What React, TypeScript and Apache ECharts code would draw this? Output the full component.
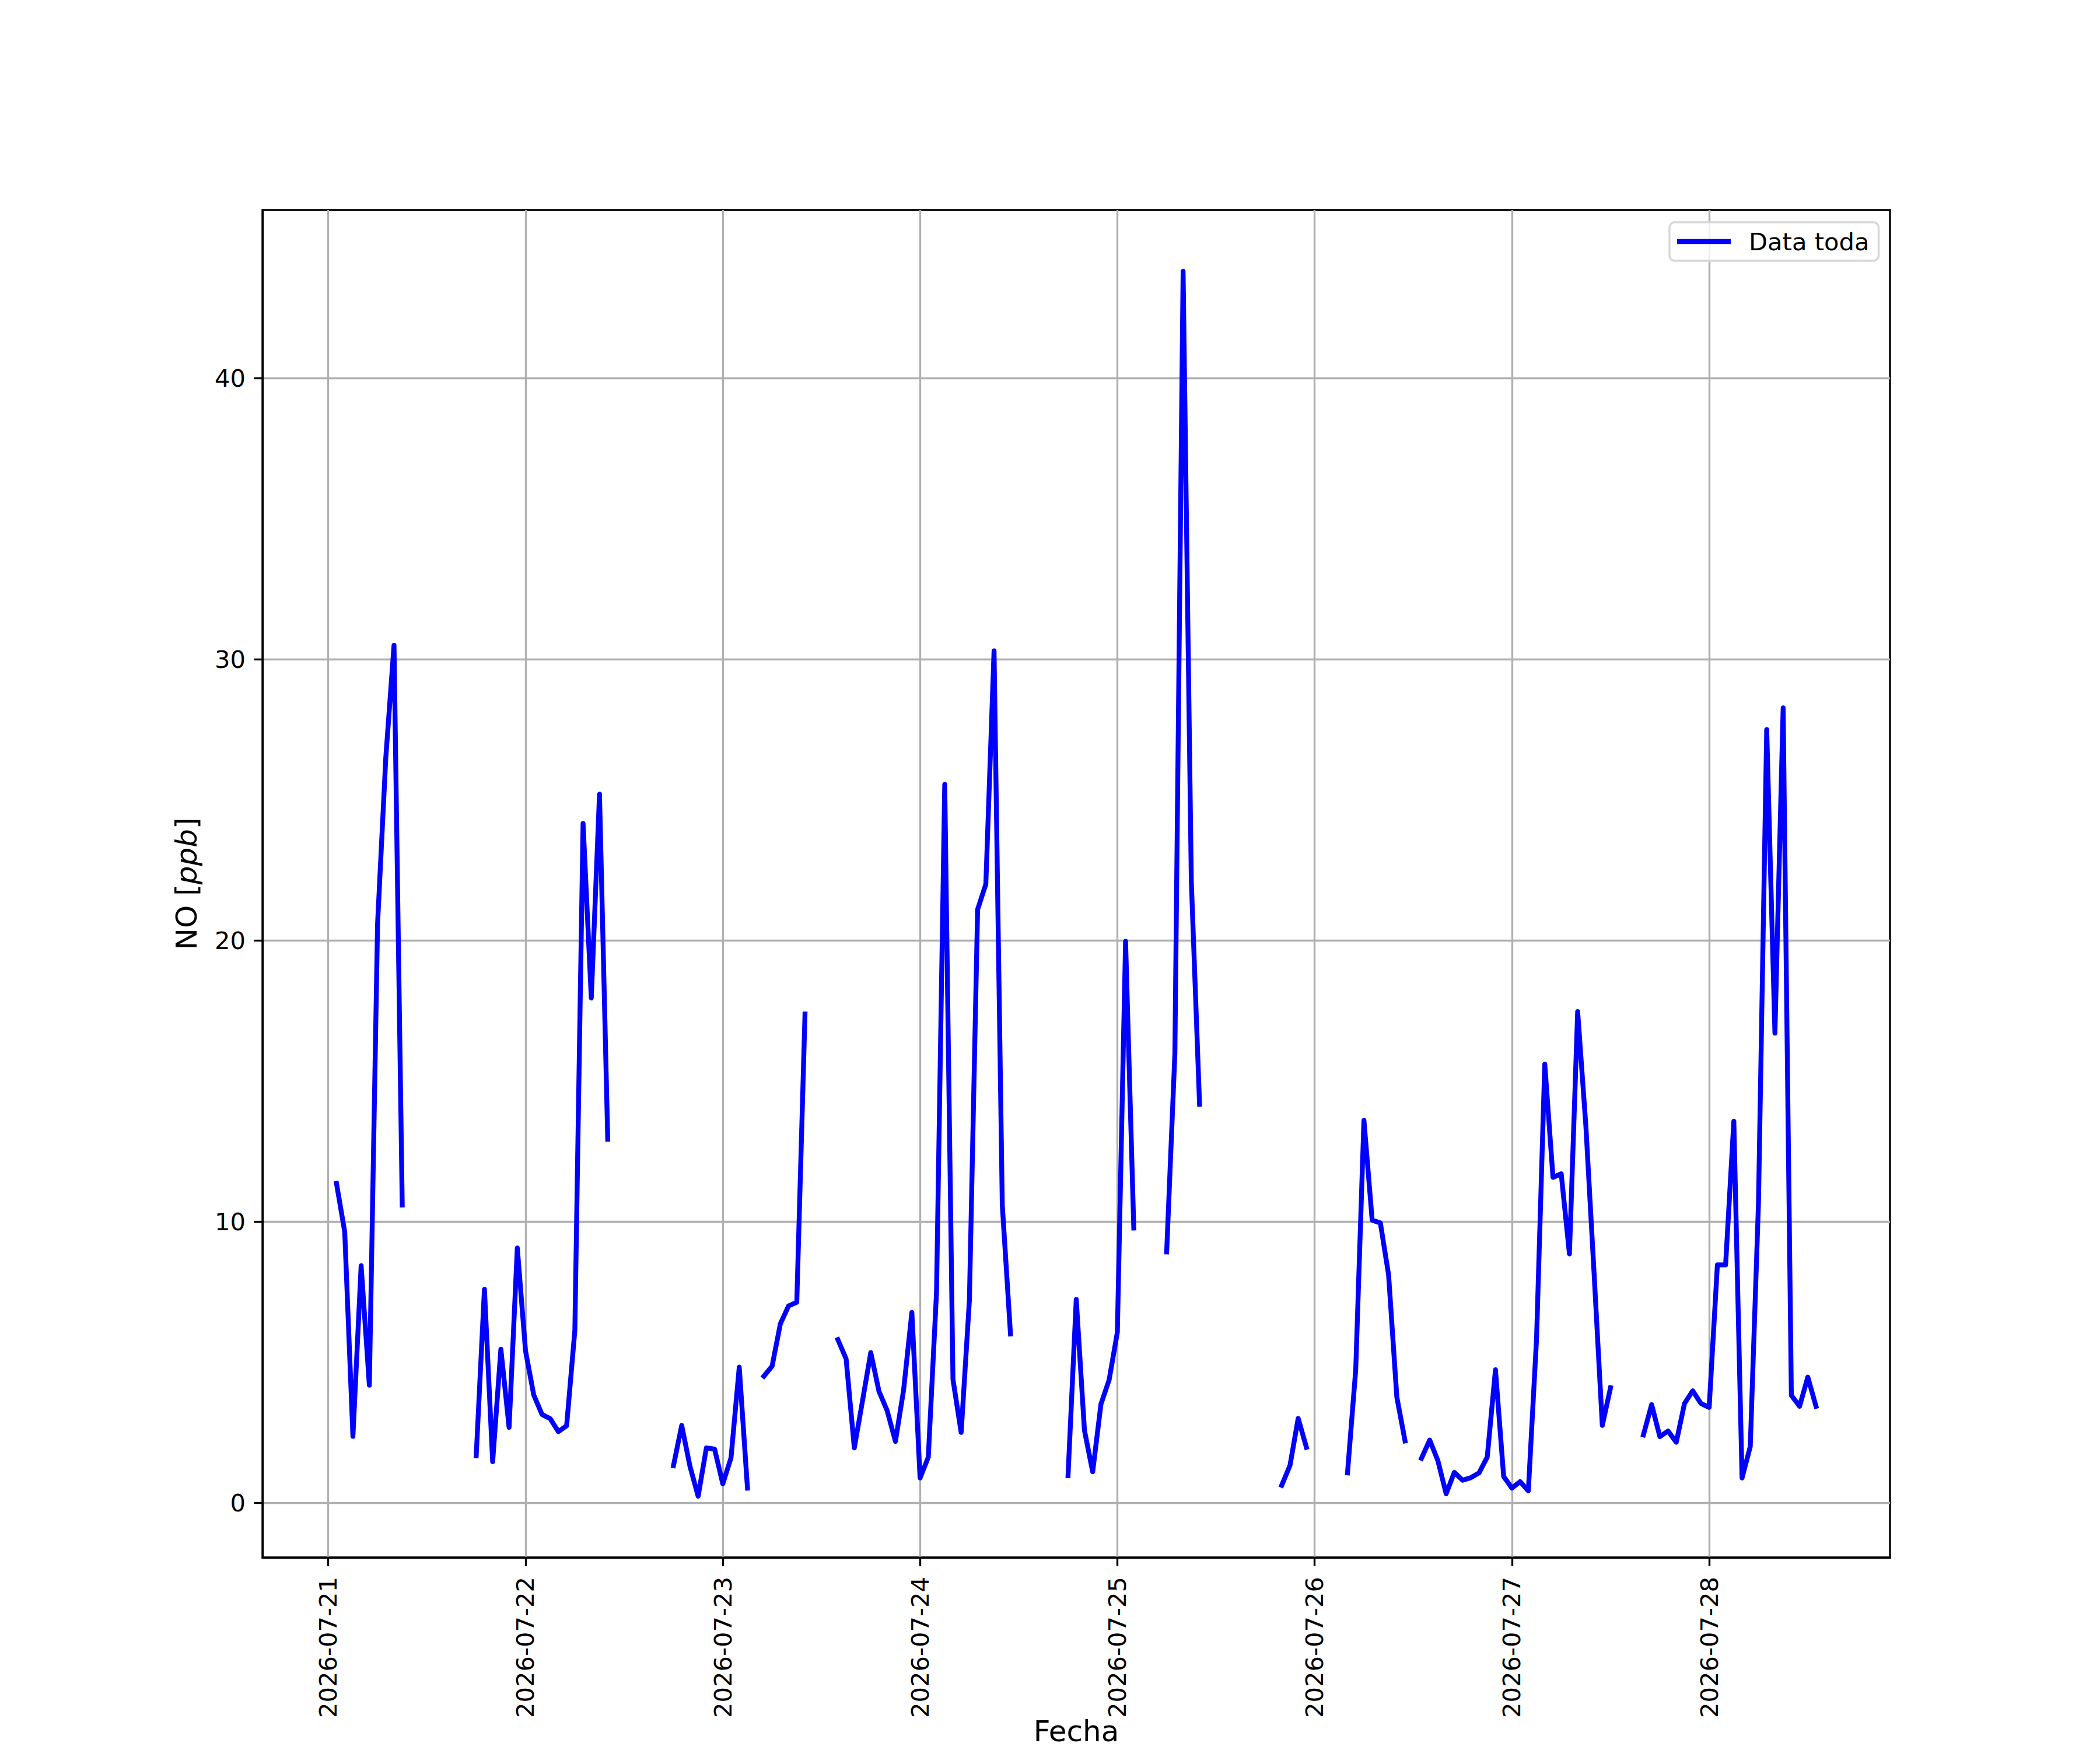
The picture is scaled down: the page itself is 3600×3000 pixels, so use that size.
import React, { useEffect, useRef } from "react";
import * as echarts from "echarts";

// ---- data (hourly NO concentration, ppb) ----
const dayLabels = [
  "2026-07-21", "2026-07-22", "2026-07-23", "2026-07-24",
  "2026-07-25", "2026-07-26", "2026-07-27", "2026-07-28",
];
const segmentStarts = [
  "2026-07-21 01:00", "2026-07-21 18:00", "2026-07-22 18:00", "2026-07-23 05:00",
  "2026-07-23 14:00", "2026-07-24 18:00", "2026-07-25 06:00", "2026-07-25 20:00",
  "2026-07-26 04:00", "2026-07-26 13:00", "2026-07-27 16:00",
];
const seg01 = [11.36, 9.64, 2.36, 8.43, 4.18, 20.6, 26.5, 30.5, 10.59];
const seg02 = [1.67, 7.59, 1.46, 5.46, 2.68, 9.06, 5.4, 3.83, 3.14, 2.99, 2.53, 2.74, 6.13, 24.16, 17.95, 25.2, 12.93];
const seg03 = [1.32, 2.75, 1.3, 0.23, 1.95, 1.91, 0.67, 1.6, 4.82, 0.52];
const seg04 = [4.5, 4.86, 6.36, 7.0, 7.13, 17.38];
const seg05 = [5.8, 5.12, 1.95, 3.63, 5.34, 3.96, 3.27, 2.18, 4.02, 6.77, 0.88, 1.62, 7.48, 25.55, 4.39, 2.5, 7.2, 21.1, 22.0, 30.3, 10.6, 6.0];
const seg06 = [0.96, 7.23, 2.57, 1.1, 3.5, 4.37, 6.06, 19.97, 9.77];
const seg07 = [8.92, 15.98, 43.8, 22.1, 14.17];
const seg08 = [0.62, 1.32, 3.0, 1.97];
const seg09 = [1.06, 4.73, 13.6, 10.05, 9.95, 8.1, 3.76, 2.2];
const seg10 = [1.58, 2.23, 1.49, 0.32, 1.08, 0.8, 0.89, 1.06, 1.62, 4.73, 0.93, 0.52, 0.75, 0.42, 5.84, 15.6, 11.57, 11.7, 8.85, 17.47, 13.4, 8.15, 2.75, 4.09];
const seg11 = [2.41, 3.49, 2.35, 2.55, 2.15, 3.53, 3.98, 3.53, 3.39, 8.46, 8.46, 13.57, 0.88, 2.0, 10.68, 27.5, 16.7, 28.27, 3.82, 3.43, 4.47, 3.43];
const segments = [seg01, seg02, seg03, seg04, seg05, seg06, seg07, seg08, seg09, seg10, seg11];
const yTicks = [0, 10, 20, 30, 40];
const seriesName = "Data toda";
const xName = "Fecha";
const yName = "NO [{i|ppb}]";

const FONT = "DejaVu Sans";

function toUTC(s: string): number {
  const [d, t] = s.split(" ");
  const [Y, M, D] = d.split("-").map(Number);
  const [h, m] = (t || "00:00").split(":").map(Number);
  return Date.UTC(Y, M - 1, D, h, m);
}
const base = toUTC(dayLabels[0]);
const hoursOf = (s: string) => (toUTC(s) - base) / 3600000;

export default function App() {
  const ref = useRef<HTMLDivElement>(null);
  useEffect(() => {
    document.body.style.margin = "0";
    if (!ref.current) return;
    const chart = echarts.init(ref.current, undefined, { renderer: "svg" });

    const data: any[] = [];
    let xmin = Infinity, xmax = -Infinity, ymin = Infinity, ymax = -Infinity;
    segments.forEach((vals, i) => {
      const h0 = hoursOf(segmentStarts[i]);
      vals.forEach((v, k) => {
        const h = h0 + k;
        data.push([h, v]);
        xmin = Math.min(xmin, h); xmax = Math.max(xmax, h);
        ymin = Math.min(ymin, v); ymax = Math.max(ymax, v);
      });
      if (i < segments.length - 1) data.push([h0 + vals.length, "-"]);
    });
    const xr = xmax - xmin, yr = ymax - ymin;
    const dayTicks = dayLabels.map((d) => hoursOf(d));

    chart.setOption({
      animation: false,
      backgroundColor: "#ffffff",
      grid: {
        left: 450, top: 360, right: 360, bottom: 330,
        containLabel: false,
        outerBoundsMode: "none",
        show: true, borderColor: "#000000", borderWidth: 3.33,
        backgroundColor: "transparent",
      },
      legend: {
        data: [seriesName],
        left: 2862, top: 381,
        orient: "horizontal",
        icon: "rect",
        itemWidth: 92, itemHeight: 8.33,
        padding: [12, 16, 12, 13],
        backgroundColor: "rgba(255,255,255,0.8)",
        borderColor: "#d6d6d6", borderWidth: 3.33, borderRadius: 9,
        textStyle: { fontSize: 41.67, fontFamily: FONT, color: "#000000", padding: [0, 0, 0, 26] },
      },
      xAxis: {
        type: "value",
        min: xmin - 0.05 * xr,
        max: xmax + 0.05 * xr,
        name: xName,
        nameLocation: "middle",
        nameGap: 273,
        nameMoveOverlap: false,
        nameTextStyle: { fontSize: 50, lineHeight: 50, fontFamily: FONT, color: "#000000" },
        axisLine: { show: true, onZero: false, lineStyle: { color: "#000000", width: 3.33 } },
        axisTick: { show: true, length: 14.6, customValues: dayTicks, lineStyle: { color: "#000000", width: 3.33 } },
        axisLabel: {
          show: true, rotate: 90, margin: 33, customValues: dayTicks,
          fontSize: 41.67, fontFamily: FONT, color: "#000000",
          formatter: (v: number) => dayLabels[Math.round(v / 24)] ?? "",
        },
        splitLine: { show: true, lineStyle: { color: "#b0b0b0", width: 3.33 } },
      },
      yAxis: {
        type: "value",
        min: ymin - 0.05 * yr,
        max: ymax + 0.05 * yr,
        name: yName,
        nameLocation: "middle",
        nameRotate: 90,
        nameGap: 105,
        nameMoveOverlap: false,
        nameTextStyle: {
          fontSize: 50, fontFamily: FONT, color: "#000000",
          rich: { i: { fontSize: 50, fontFamily: FONT, fontStyle: "italic", color: "#000000" } },
        },
        axisLine: { show: true, onZero: false, lineStyle: { color: "#000000", width: 3.33 } },
        axisTick: { show: true, length: 14.6, customValues: yTicks, lineStyle: { color: "#000000", width: 3.33 } },
        axisLabel: {
          show: true, margin: 29, customValues: yTicks,
          fontSize: 41.67, fontFamily: FONT, color: "#000000",
        },
        splitLine: { show: true, lineStyle: { color: "#b0b0b0", width: 3.33 } },
      },
      series: [
        {
          name: seriesName,
          type: "line",
          data,
          showSymbol: false,
          symbol: "none",
          connectNulls: false,
          clip: true,
          itemStyle: { color: "#0000ff" },
          lineStyle: { color: "#0000ff", width: 8.33, join: "round", cap: "square" },
        },
      ],
    });
    return () => chart.dispose();
  }, []);
  return <div ref={ref} style={{ width: 3600, height: 3000 }} />;
}
